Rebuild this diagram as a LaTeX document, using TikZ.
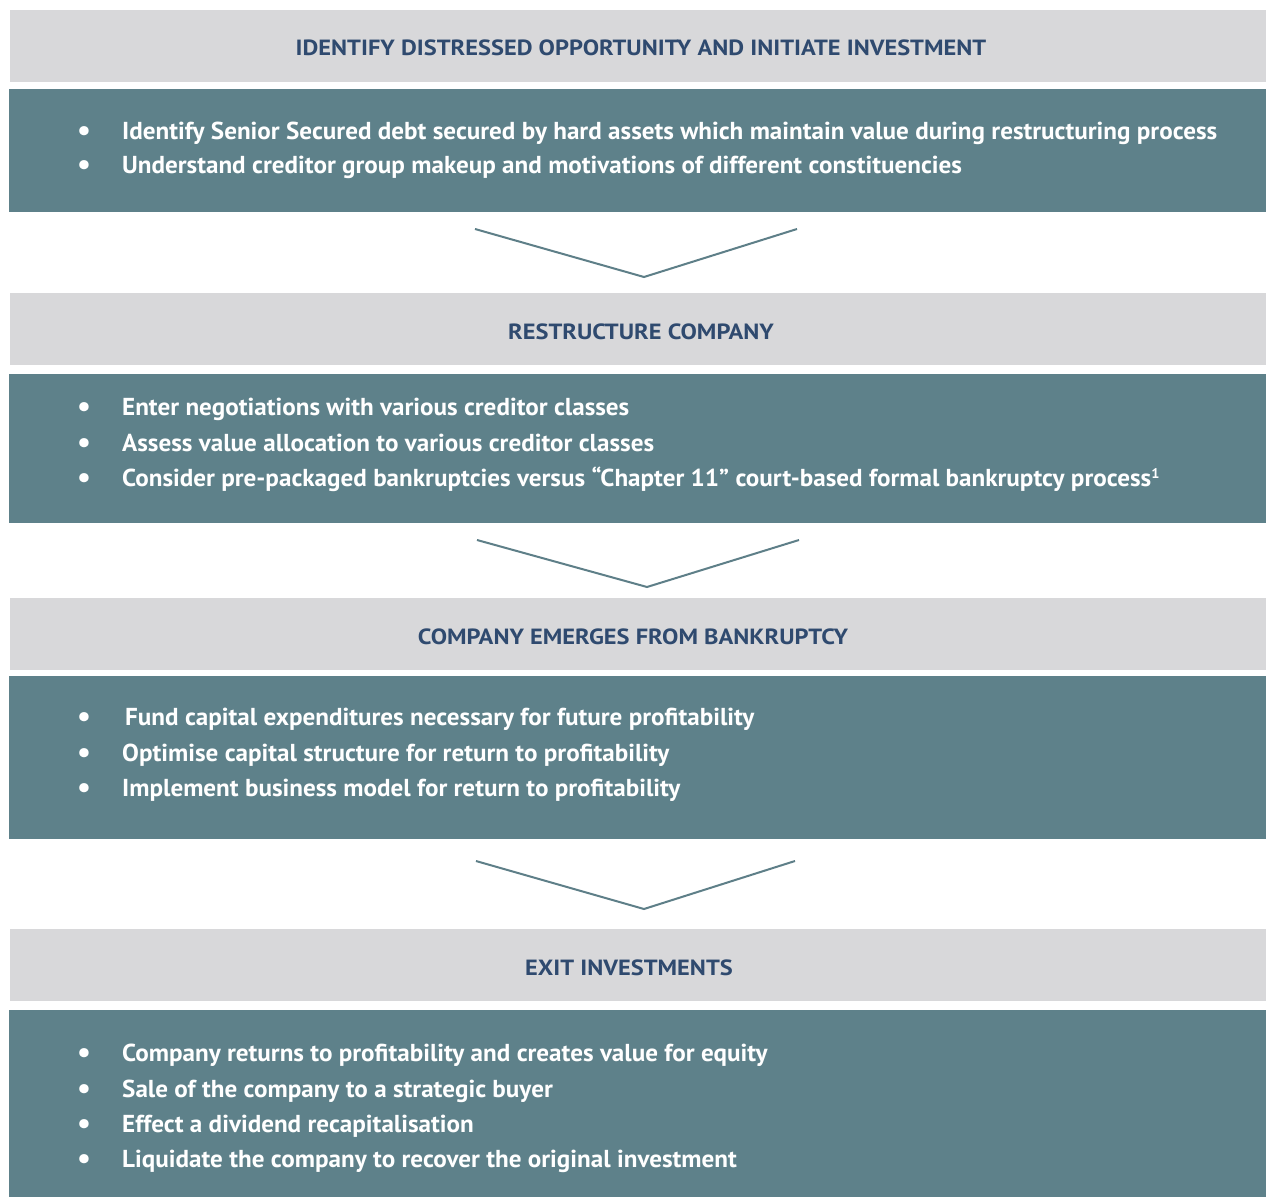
\documentclass[tikz,border=0pt]{standalone}
\usepackage{fontspec}
\setmainfont[FakeStretch=1.025]{PT Sans}
\newfontfamily\ttlfont[FakeStretch=1.11]{PT Sans}
\definecolor{hgray}{HTML}{D8D8DA}
\definecolor{teal}{HTML}{5E818A}
\definecolor{tcol}{HTML}{2F4A6F}
\definecolor{chevc}{HTML}{5E7F88}
\begin{document}
\begin{tikzpicture}[x=1pt,y=-1pt,
  hdr/.style={fill=hgray,draw=none,inner sep=0pt,anchor=north west,minimum width=1256pt,minimum height=72pt},
  bodybox/.style={fill=teal,draw=none,inner sep=0pt,anchor=north west,minimum width=1257pt},
  ttl/.style={text=tcol,font=\ttlfont\bfseries\fontsize{22}{26}\selectfont,anchor=base,inner sep=0pt},
  txt/.style={text=white,font=\bfseries\fontsize{24.5}{30}\selectfont,anchor=base west,inner sep=0pt},
  bul/.style={text=white,font=\bfseries\fontsize{30}{30}\selectfont,anchor=base,inner sep=0pt},
  chev/.style={draw=chevc,line width=2pt}]
\useasboundingbox (0,0) rectangle (1266,1198);
\fill[white] (0,0) rectangle (1266,1198);
% box 1
\node[hdr] (h1) at (10,10) {};
\node[bodybox,minimum height=123pt] (b1) at (9,89) {};
\node[ttl] (t1) at (641,56) {IDENTIFY DISTRESSED OPPORTUNITY AND INITIATE INVESTMENT};
\node[bul] (b1a) at (84,141) {•};
\node[txt] (l1a) at (122,140) {Identify Senior Secured debt secured by hard assets which maintain value during restructuring process};
\node[bul] (b1b) at (84,175) {•};
\node[txt] (l1b) at (122,174) {Understand creditor group makeup and motivations of different constituencies};
% chevron 1
\coordinate (c1a) at (475,229); \coordinate (c1b) at (644,277); \coordinate (c1c) at (797,229);
\draw[chev] (c1a) -- (c1b) -- (c1c);
% box 2
\node[hdr] (h2) at (10,293) {};
\node[bodybox,minimum height=149pt] (b2) at (9,374) {};
\node[ttl] (t2) at (641,339) {RESTRUCTURE COMPANY};
\node[bul] (b2a) at (84,416) {•};
\node[txt] (l2a) at (122,415) {Enter negotiations with various creditor classes};
\node[bul] (b2b) at (84,452) {•};
\node[txt] (l2b) at (122,451) {Assess value allocation to various creditor classes};
\node[bul] (b2c) at (84,487) {•};
\node[txt] (l2c) at (122,486) {Consider pre-packaged bankruptcies versus “Chapter 11” court-based formal bankruptcy process\raisebox{0.6ex}{\fontsize{14}{14}\selectfont 1}};
% chevron 2
\coordinate (c2a) at (477,540); \coordinate (c2b) at (647,587); \coordinate (c2c) at (799,540);
\draw[chev] (c2a) -- (c2b) -- (c2c);
% box 3
\node[hdr] (h3) at (10,598) {};
\node[bodybox,minimum height=163pt] (b3) at (9,676) {};
\node[ttl] (t3) at (633,644) {COMPANY EMERGES FROM BANKRUPTCY};
\node[bul] (b3a) at (84,726) {•};
\node[txt] (l3a) at (125,725) {Fund capital expenditures necessary for future profitability};
\node[bul] (b3b) at (84,762) {•};
\node[txt] (l3b) at (122,761) {Optimise capital structure for return to profitability};
\node[bul] (b3c) at (84,797) {•};
\node[txt] (l3c) at (122,796) {Implement business model for return to profitability};
% chevron 3
\coordinate (c3a) at (476,861); \coordinate (c3b) at (644,909); \coordinate (c3c) at (795,861);
\draw[chev] (c3a) -- (c3b) -- (c3c);
% box 4
\node[hdr] (h4) at (10,929) {};
\node[bodybox,minimum height=187pt] (b4) at (9,1010) {};
\node[ttl] (t4) at (629,975) {EXIT INVESTMENTS};
\node[bul] (b4a) at (84,1062) {•};
\node[txt] (l4a) at (122,1061) {Company returns to profitability and creates value for equity};
\node[bul] (b4b) at (84,1098) {•};
\node[txt] (l4b) at (122,1097) {Sale of the company to a strategic buyer};
\node[bul] (b4c) at (84,1133) {•};
\node[txt] (l4c) at (122,1132) {Effect a dividend recapitalisation};
\node[bul] (b4d) at (84,1168) {•};
\node[txt] (l4d) at (122,1167) {Liquidate the company to recover the original investment};
\end{tikzpicture}
\end{document}
